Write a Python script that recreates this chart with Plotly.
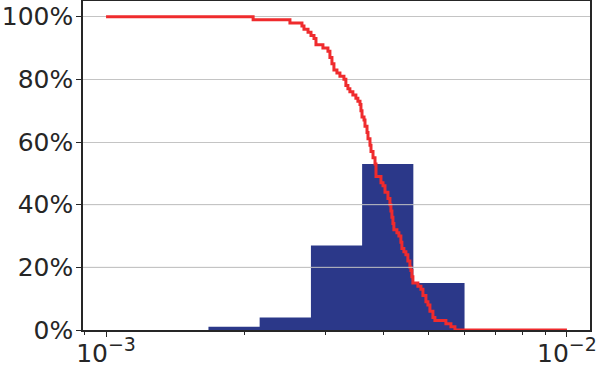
import plotly.graph_objects as go

# Histogram (percent of samples per log-spaced bin)
bin_edges = [1.668e-3, 2.154e-3, 2.783e-3, 3.594e-3, 4.642e-3, 5.995e-3]
bin_pct = [1, 4, 27, 53, 15]

# Survival curve (step, value after each x)
surv_x = [1.000e-3, 2.085e-3, 2.506e-3, 2.661e-3, 2.688e-3, 2.743e-3, 2.784e-3, 2.826e-3,
          2.854e-3, 2.955e-3, 3.030e-3, 3.060e-3, 3.091e-3, 3.122e-3, 3.169e-3, 3.217e-3,
          3.282e-3, 3.314e-3, 3.348e-3, 3.381e-3, 3.432e-3, 3.484e-3, 3.519e-3, 3.556e-3,
          3.573e-3, 3.592e-3, 3.628e-3, 3.646e-3, 3.683e-3, 3.701e-3, 3.738e-3, 3.757e-3,
          3.795e-3, 3.833e-3, 3.852e-3, 3.949e-3, 3.989e-3, 4.029e-3, 4.089e-3, 4.130e-3,
          4.150e-3, 4.171e-3, 4.192e-3, 4.212e-3, 4.276e-3, 4.319e-3, 4.362e-3, 4.384e-3,
          4.428e-3, 4.473e-3, 4.517e-3, 4.563e-3, 4.586e-3, 4.609e-3, 4.632e-3, 4.749e-3,
          4.821e-3, 4.870e-3, 4.943e-3, 4.993e-3, 5.043e-3, 5.119e-3, 5.170e-3, 5.462e-3,
          5.601e-3, 5.714e-3, 1.000e-2]
surv_pct = [100, 99, 98, 97, 96, 95, 94, 93,
            91, 90, 89, 87, 85, 83, 82, 81,
            80, 78, 77, 76, 75, 74, 73, 72,
            70, 68, 67, 65, 63, 61, 59, 57,
            55, 53, 49, 47, 46, 44, 42, 40,
            38, 36, 34, 32, 31, 30, 28, 26,
            25, 24, 22, 20, 19, 17, 15, 14,
            13, 11, 9, 8, 6, 4, 3, 2,
            1, 0, 0]

y_ticks = [0, 20, 40, 60, 80, 100]
y_tick_text = ["0%", "20%", "40%", "60%", "80%", "100%"]
x_major = [1e-3, 1e-2]
x_major_text = ["10<sup><span style='font-size:19px'>−3</span></sup>",
                "10<sup><span style='font-size:19px'>−2</span></sup>"]
x_minor = [9e-4] + [k * 1e-3 for k in range(2, 10)]

BAR = "#2b3889"
RED = "#ef2b2d"
INK = "#262626"
GRID = "#c4c4c4"

# bars as filled polygons on the log axis
bx, by = [], []
for i, p in enumerate(bin_pct):
    x0, x1 = bin_edges[i], bin_edges[i + 1]
    bx += [x0, x0, x1, x1, x0, None]
    by += [0, p, p, 0, 0, None]

fig = go.Figure()
fig.add_trace(go.Scatter(x=bx, y=by, mode="lines", fill="toself", fillcolor=BAR,
                         line=dict(width=0, color=BAR), hoverinfo="skip", showlegend=False))
fig.add_trace(go.Scatter(x=surv_x, y=surv_pct, mode="lines", line_shape="hv",
                         line=dict(color=RED, width=3), showlegend=False))

# gridlines that cross the bars are drawn over them (as in the reference)
for v in [20, 40]:
    fig.add_shape(type="line", xref="paper", x0=0, x1=1, yref="y", y0=v, y1=v,
                  line=dict(color=GRID, width=1), layer="above")

fig.update_layout(
    width=597, height=369,
    margin=dict(l=83, r=7, t=1, b=39, autoexpand=False),
    paper_bgcolor="white", plot_bgcolor="white",
    font=dict(family="DejaVu Sans", size=25, color=INK),
    xaxis=dict(type="log", range=[-3.05, -1.95], showgrid=False, automargin=False,
               tickmode="array", tickvals=x_major, ticktext=x_major_text,
               tickfont=dict(size=25), ticklabelstandoff=-5,
               ticks="outside", ticklen=5, tickwidth=1, tickcolor=INK,
               showline=True, linecolor=INK, linewidth=1.5, mirror=True,
               minor=dict(tickvals=x_minor, ticks="outside", ticklen=3,
                          tickcolor=INK, tickwidth=1, showgrid=False),
               zeroline=False),
    yaxis=dict(range=[0, 105], tickmode="array", tickvals=y_ticks, ticktext=y_tick_text,
               automargin=False, ticklabelstandoff=-2,
               showgrid=True, gridcolor=GRID, gridwidth=1,
               ticks="outside", ticklen=5, tickwidth=1, tickcolor=INK,
               showline=True, linecolor=INK, linewidth=1.5, mirror=True,
               zeroline=False),
)

fig.write_html("out.html")
